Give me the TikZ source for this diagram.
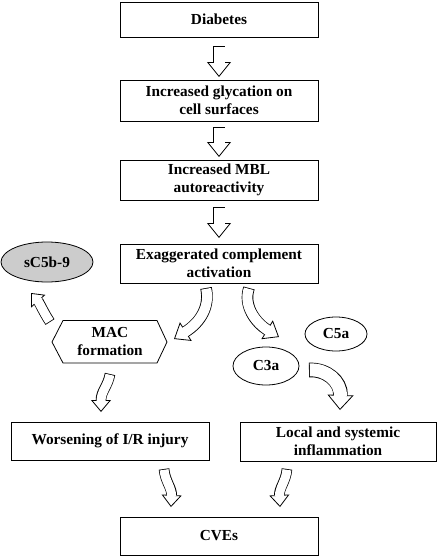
\documentclass[tikz,border=0pt]{standalone}
\usepackage{fontspec}
\setmainfont{Liberation Serif}
\usetikzlibrary{arrows.meta,shadows,shapes.geometric}

\newcommand\blockarr[4]{% #1 inner shaft width, #2 head width, #3 head length, #4 path
  \draw[line width=#1pt+1.6pt,
        -{Triangle[length=#3pt,width=#2pt,line width=0.8pt,fill=white]}] #4;
  \draw[white, line width=#1pt, shorten <=0.8pt, shorten >=#3pt-1.5pt] #4;
}

\tikzset{
  lbl/.style={font=\fontsize{15.3}{18}\selectfont\bfseries, align=center, inner sep=0pt},
  box/.style={lbl, draw, line width=0.9pt, fill=white,
    drop shadow={shadow xshift=1pt, shadow yshift=-1.3pt, fill=black!40, opacity=1}},
  ell/.style={lbl, draw, ellipse, line width=0.8pt, fill=white},
}

\begin{document}
\begin{tikzpicture}[x=1pt,y=-1pt]
\useasboundingbox (0,0) rectangle (440,557);

% boxes
\node[box, minimum width=198pt, minimum height=35pt] (diab) at (219,19.5) {Diabetes};
\node[box, minimum width=198pt, minimum height=41pt] (gly) at (219,100.5) {Increased glycation on\\cell surfaces};
\node[box, minimum width=198pt, minimum height=40pt] (mbl) at (219,180) {Increased MBL\\autoreactivity};
\node[box, minimum width=198pt, minimum height=39pt] (exa) at (219,263.5) {Exaggerated complement\\activation};
\node[box, minimum width=198pt, minimum height=38pt] (wors) at (110,441) {Worsening of I/R injury};
\node[box, minimum width=196pt, minimum height=39pt] (loc) at (338,441.5) {Local and systemic\\inflammation};
\node[box, minimum width=198pt, minimum height=38pt] (cve) at (219,536) {CVEs};

% ellipses
\node[ell, fill=black!20, minimum width=92pt, minimum height=40pt] (sc5) at (47,262) {sC5b-9};
\node[ell, minimum width=62pt, minimum height=34pt] (c5a) at (336,334) {C5a};
\node[ell, minimum width=66pt, minimum height=38pt] (c3a) at (266,366) {C3a};

% MAC hexagon
\draw[line width=0.8pt, fill=white] (52,342) -- (63,320.5) -- (157,320.5) -- (167,342) -- (157,363) -- (63,363) -- cycle;
\node[lbl] (mac) at (110,342) {MAC\\formation};

% straight arrows
\coordinate (a1s) at (219,46);  \coordinate (a1e) at (219,77);
\coordinate (a2s) at (219,127); \coordinate (a2e) at (219,157);
\coordinate (a3s) at (219,207); \coordinate (a3e) at (219,238);
\blockarr{11}{24}{15}{(a1s) -- (a1e)}
\blockarr{11}{24}{15}{(a2s) -- (a2e)}
\blockarr{11}{24}{15}{(a3s) -- (a3e)}

% curved arrows
\coordinate (As) at (206,288); \coordinate (Ae) at (174,339);
\blockarr{10}{22}{14}{(As) .. controls (210,306) and (201,322) .. (Ae)}
\coordinate (Bs) at (249,288); \coordinate (Be) at (279,337);
\blockarr{10}{22}{14}{(Bs) .. controls (243,306) and (256,323) .. (Be)}
\coordinate (Cs) at (50,322); \coordinate (Ce) at (31,293);
\blockarr{9}{19}{11}{(Cs) .. controls (44,313) and (39,302) .. (Ce)}
\coordinate (Ds) at (309,370); \coordinate (De) at (340,410);
\blockarr{13}{26}{15}{(Ds) .. controls (326,369) and (341,381) .. (De)}
\coordinate (Es) at (110,374); \coordinate (Ee) at (101,412);
\blockarr{9}{20}{12}{(Es) .. controls (108,386) and (101,391) .. (Ee)}
\coordinate (Fs) at (164,469); \coordinate (Fe) at (171,507);
\blockarr{9}{20}{12}{(Fs) .. controls (165,481) and (172,488) .. (Fe)}
\coordinate (Gs) at (287,469); \coordinate (Ge) at (280,507);
\blockarr{9}{20}{12}{(Gs) .. controls (286,481) and (279,488) .. (Ge)}
\end{tikzpicture}
\end{document}
